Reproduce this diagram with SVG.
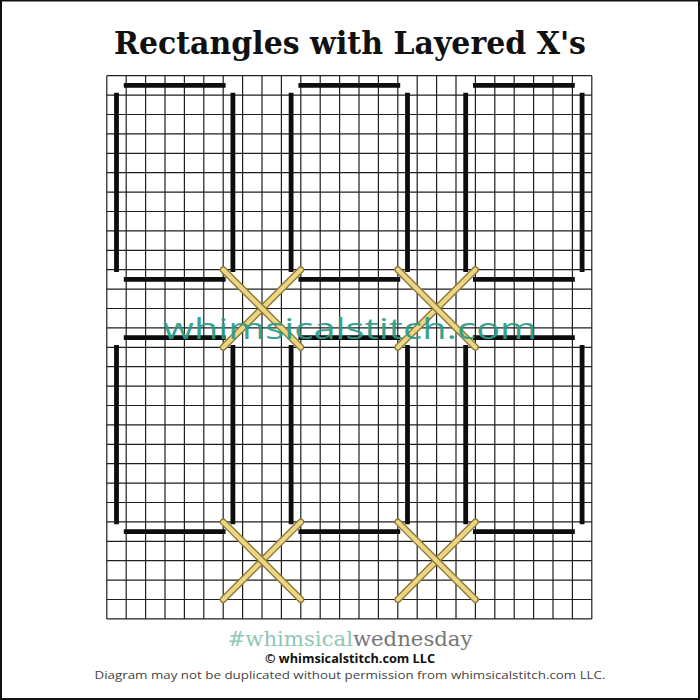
<svg xmlns="http://www.w3.org/2000/svg" width="700" height="700" viewBox="0 0 700 700">
<style>
.grid{stroke:#1f1f1f;stroke-width:1.2;fill:none}
.bar{stroke:#0d0d0d;stroke-width:4.8;stroke-linecap:square;fill:none}
.xo{stroke:#8c7a36;stroke-width:7;stroke-linecap:round;fill:none}
.xi{stroke:#ecd685;stroke-width:4.2;stroke-linecap:round;fill:none}
.title{font-family:"DejaVu Serif",serif;font-weight:bold;font-size:31px;fill:#111}
.wm{font-family:"Open Sans","DejaVu Sans",sans-serif;font-weight:400;font-size:30px;fill:#2a9c87;opacity:0.92}
.tag{font-family:"DejaVu Serif",serif;font-size:21px}
.copy{font-family:"Open Sans","DejaVu Sans",sans-serif;font-weight:bold;font-size:11.5px;fill:#111}
.note{font-family:"Open Sans","DejaVu Sans",sans-serif;font-size:11px;fill:#444}
</style>
<rect x="0" y="0" width="700" height="700" fill="#fff"/>
<rect x="1" y="0.5" width="698" height="698.5" fill="none" stroke="#111" stroke-width="2"/>
<text class="title" x="350" y="54" text-anchor="middle" textLength="472" lengthAdjust="spacingAndGlyphs">Rectangles with Layered X's</text>
<g id="grid" class="grid">
<path d="M106.8 75.7V618.9M126.2 75.7V618.9M145.6 75.7V618.9M165 75.7V618.9M184.4 75.7V618.9M203.8 75.7V618.9M223.2 75.7V618.9M242.6 75.7V618.9M262 75.7V618.9M281.4 75.7V618.9M300.8 75.7V618.9M320.2 75.7V618.9M339.6 75.7V618.9M359 75.7V618.9M378.4 75.7V618.9M397.8 75.7V618.9M417.2 75.7V618.9M436.6 75.7V618.9M456 75.7V618.9M475.4 75.7V618.9M494.8 75.7V618.9M514.2 75.7V618.9M533.6 75.7V618.9M553 75.7V618.9M572.4 75.7V618.9M591.8 75.7V618.9"/>
<path d="M106.8 75.7H591.8M106.8 95.1H591.8M106.8 114.5H591.8M106.8 133.9H591.8M106.8 153.3H591.8M106.8 172.7H591.8M106.8 192.1H591.8M106.8 211.5H591.8M106.8 230.9H591.8M106.8 250.3H591.8M106.8 269.7H591.8M106.8 289.1H591.8M106.8 308.5H591.8M106.8 327.9H591.8M106.8 347.3H591.8M106.8 366.7H591.8M106.8 386.1H591.8M106.8 405.5H591.8M106.8 424.9H591.8M106.8 444.3H591.8M106.8 463.7H591.8M106.8 483.1H591.8M106.8 502.5H591.8M106.8 521.9H591.8M106.8 541.3H591.8M106.8 560.7H591.8M106.8 580.1H591.8M106.8 599.5H591.8M106.8 618.9H591.8"/>
</g>
<g id="rect-top-left" class="bar"><path d="M126.2 85.4H223.2M126.2 279.4H223.2M116.5 95.1V269.7M232.9 95.1V269.7"/></g>
<g id="rect-top-middle" class="bar"><path d="M300.8 85.4H397.8M300.8 279.4H397.8M291.1 95.1V269.7M407.5 95.1V269.7"/></g>
<g id="rect-top-right" class="bar"><path d="M475.4 85.4H572.4M475.4 279.4H572.4M465.7 95.1V269.7M582.1 95.1V269.7"/></g>
<g id="rect-bottom-left" class="bar"><path d="M126.2 337.6H223.2M126.2 531.6H223.2M116.5 347.3V521.9M232.9 347.3V521.9"/></g>
<g id="rect-bottom-middle" class="bar"><path d="M300.8 337.6H397.8M300.8 531.6H397.8M291.1 347.3V521.9M407.5 347.3V521.9"/></g>
<g id="rect-bottom-right" class="bar"><path d="M475.4 337.6H572.4M475.4 531.6H572.4M465.7 347.3V521.9M582.1 347.3V521.9"/></g>
<g id="x-top-left">
<path class="xo" d="M223.2 347.3L300.8 269.7"/><path class="xi" d="M223.2 347.3L300.8 269.7"/>
<path class="xo" d="M223.2 269.7L300.8 347.3"/><path class="xi" d="M223.2 269.7L300.8 347.3"/>
</g>
<g id="x-top-right">
<path class="xo" d="M397.8 347.3L475.4 269.7"/><path class="xi" d="M397.8 347.3L475.4 269.7"/>
<path class="xo" d="M397.8 269.7L475.4 347.3"/><path class="xi" d="M397.8 269.7L475.4 347.3"/>
</g>
<g id="x-bottom-left">
<path class="xo" d="M223.2 599.5L300.8 521.9"/><path class="xi" d="M223.2 599.5L300.8 521.9"/>
<path class="xo" d="M223.2 521.9L300.8 599.5"/><path class="xi" d="M223.2 521.9L300.8 599.5"/>
</g>
<g id="x-bottom-right">
<path class="xo" d="M397.8 599.5L475.4 521.9"/><path class="xi" d="M397.8 599.5L475.4 521.9"/>
<path class="xo" d="M397.8 521.9L475.4 599.5"/><path class="xi" d="M397.8 521.9L475.4 599.5"/>
</g>
<text class="wm" x="350" y="339" text-anchor="middle" textLength="374" lengthAdjust="spacingAndGlyphs">whimsicalstitch.com</text>
<text class="tag" x="350" y="646" text-anchor="middle" textLength="245" lengthAdjust="spacingAndGlyphs"><tspan fill="#8fc6b6">#whimsical</tspan><tspan fill="#777">wednesday</tspan></text>
<text class="copy" x="350" y="662.5" text-anchor="middle" textLength="170" lengthAdjust="spacingAndGlyphs">© whimsicalstitch.com LLC</text>
<text class="note" x="350" y="679" text-anchor="middle" textLength="511" lengthAdjust="spacingAndGlyphs">Diagram may not be duplicated without permission from whimsicalstitch.com LLC.</text>
</svg>
